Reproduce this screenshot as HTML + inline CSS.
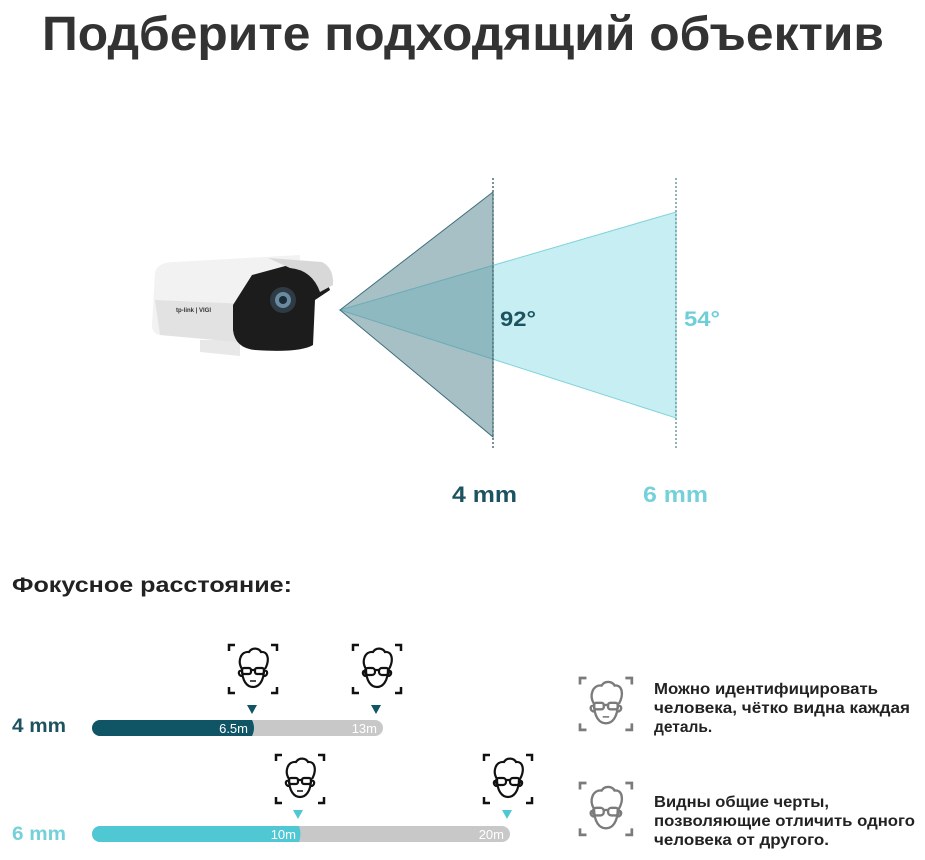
<!DOCTYPE html>
<html><head><meta charset="utf-8"><style>
html,body{margin:0;padding:0;background:#fff;}
svg{display:block;font-family:"Liberation Sans","DejaVu Sans",sans-serif;}
</style></head><body>
<svg width="925" height="860" viewBox="0 0 925 860" xmlns="http://www.w3.org/2000/svg">
<defs>
<g id="face" fill="none" stroke="#111" stroke-width="2.2">
  <path d="M0 6V0H6M42 0H48V6M48 42V48H42M6 48H0V42" stroke-width="2.5"/>
  <path d="M13 24 C8 16 12 6 20 7 C23 2 30 3 32 7 C39 6 41 15 36 24"/>
  <path d="M13 24 C13 36 18 42 24 42 C30 42 35 36 35 24"/>
  <path d="M12 26 C9 25 9 31 13 31 M36 26 C39 25 39 31 35 31"/>
  <rect x="13" y="23" width="9" height="6" rx="2"/>
  <rect x="26" y="23" width="9" height="6" rx="2"/>
  <path d="M22 25H26"/>
  <path d="M21 36H27" stroke-width="1.5"/>
</g>
<g id="face2" fill="none" stroke="#111" stroke-width="2.2">
  <path d="M0 6V0H6M42 0H48V6M48 42V48H42M6 48H0V42" stroke-width="2.5"/>
  <path d="M13 24 C8 16 12 6 20 7 C23 2 30 3 32 7 C39 6 41 15 36 24"/>
  <path d="M13 24 C13 36 18 42 24 42 C30 42 35 36 35 24"/>
  <path d="M12 26 C9 25 9 31 13 31 M36 26 C39 25 39 31 35 31"/>
  <rect x="12" y="23" width="10" height="7" rx="3"/>
  <rect x="26" y="23" width="10" height="7" rx="3"/>
  <path d="M22 25H26"/>
</g>
</defs>

<text x="463" y="50" text-anchor="middle" font-size="48" font-weight="bold" fill="#333" textLength="842" lengthAdjust="spacingAndGlyphs">Подберите подходящий объектив</text>

<!-- cones -->
<polygon points="340,310 676,212 676,418" fill="#c7eff3" stroke="#7fd3db" stroke-width="1"/>
<polygon points="340,310 493,192 493,437" fill="#5f8d97" fill-opacity="0.55" stroke="#3e6e78" stroke-width="1"/>
<line x1="493" y1="178" x2="493" y2="450" stroke="#4d6d75" stroke-width="1.5" stroke-dasharray="2,2"/>
<line x1="676" y1="178" x2="676" y2="450" stroke="#6a9aa2" stroke-width="1.5" stroke-dasharray="2,2"/>
<text x="500" y="326" font-size="21" font-weight="bold" fill="#1d5360" textLength="36" lengthAdjust="spacingAndGlyphs">92°</text>
<text x="684" y="326" font-size="21" font-weight="bold" fill="#6fcfd8" textLength="36" lengthAdjust="spacingAndGlyphs">54°</text>
<text x="452" y="502" font-size="22" font-weight="bold" fill="#1d5360" textLength="65" lengthAdjust="spacingAndGlyphs">4 mm</text>
<text x="643" y="502" font-size="22" font-weight="bold" fill="#74d1d9" textLength="65" lengthAdjust="spacingAndGlyphs">6 mm</text>

<!-- camera -->
<path d="M200 340 L240 340 L240 356 L200 352 Z" fill="#e8e8e8"/>
<path d="M155 272 Q158 262 175 262 L300 255 L300 345 L160 335 Q152 334 152 325 Z" fill="#f2f2f2"/>
<path d="M155 300 L270 305 L270 345 L160 335 Z" fill="#e2e2e2"/>
<path d="M233 305 L252 275 L300 262 L322 270 L330 290 L315 300 L313 345 Q300 353 255 350 Q235 348 233 330 Z" fill="#1c1c1c"/>
<path d="M268 258 L322 262 Q334 268 333 285 L320 292 Q312 270 290 268 Z" fill="#d8d8d8"/>
<circle cx="283" cy="300" r="13" fill="#2e3a44"/>
<circle cx="283" cy="300" r="8" fill="#6a8aa0"/>
<circle cx="283" cy="300" r="4" fill="#1a2a36"/>
<text x="176" y="312" font-size="6" font-weight="bold" fill="#333">tp-link | VIGI</text>

<!-- focal -->
<text x="12" y="592" font-size="21" font-weight="bold" fill="#222" textLength="280" lengthAdjust="spacingAndGlyphs">Фокусное расстояние:</text>

<text x="12" y="732" font-size="19" font-weight="bold" fill="#1d5360" textLength="54" lengthAdjust="spacingAndGlyphs">4 mm</text>
<rect x="92" y="720" width="291" height="16" rx="8" fill="#c8c8c8"/>
<path d="M100 720 H252 Q256 728 252 736 H100 A8 8 0 0 1 100 720 Z" fill="#0f5566"/>
<text x="248" y="733" text-anchor="end" font-size="13" fill="#fff">6.5m</text>
<text x="377" y="733" text-anchor="end" font-size="13" fill="#fff">13m</text>
<polygon points="247,705 257,705 252,714" fill="#0f5566"/>
<polygon points="371,705 381,705 376,714" fill="#0f5566"/>
<use href="#face" x="229" y="645"/>
<use href="#face2" x="353" y="645"/>

<text x="12" y="840" font-size="19" font-weight="bold" fill="#74d1d9" textLength="54" lengthAdjust="spacingAndGlyphs">6 mm</text>
<rect x="92" y="826" width="418" height="16" rx="8" fill="#c8c8c8"/>
<path d="M100 826 H299 Q302 834 299 842 H100 A8 8 0 0 1 100 826 Z" fill="#4fc8d4"/>
<text x="296" y="839" text-anchor="end" font-size="13" fill="#fff">10m</text>
<text x="504" y="839" text-anchor="end" font-size="13" fill="#fff">20m</text>
<polygon points="293,810 303,810 298,819" fill="#4fc8d4"/>
<polygon points="502,810 512,810 507,819" fill="#4fc8d4"/>
<use href="#face" x="276" y="755"/>
<use href="#face2" x="484" y="755"/>

<!-- legend -->
<g opacity="0.55"><use href="#face" x="580" y="678" transform="translate(580,678) scale(1.08) translate(-580,-678)"/></g>
<g opacity="0.55"><use href="#face2" x="580" y="783" transform="translate(580,783) scale(1.08) translate(-580,-783)"/></g>
<g font-size="15.5" font-weight="bold" fill="#222">
<text x="654" y="694" textLength="224" lengthAdjust="spacingAndGlyphs">Можно идентифицировать</text>
<text x="654" y="713" textLength="256" lengthAdjust="spacingAndGlyphs">человека, чётко видна каждая</text>
<text x="654" y="732">деталь.</text>
<text x="654" y="807" textLength="175" lengthAdjust="spacingAndGlyphs">Видны общие черты,</text>
<text x="654" y="826" textLength="261" lengthAdjust="spacingAndGlyphs">позволяющие отличить одного</text>
<text x="654" y="845" textLength="175" lengthAdjust="spacingAndGlyphs">человека от другого.</text>
</g>
</svg>
</body></html>
